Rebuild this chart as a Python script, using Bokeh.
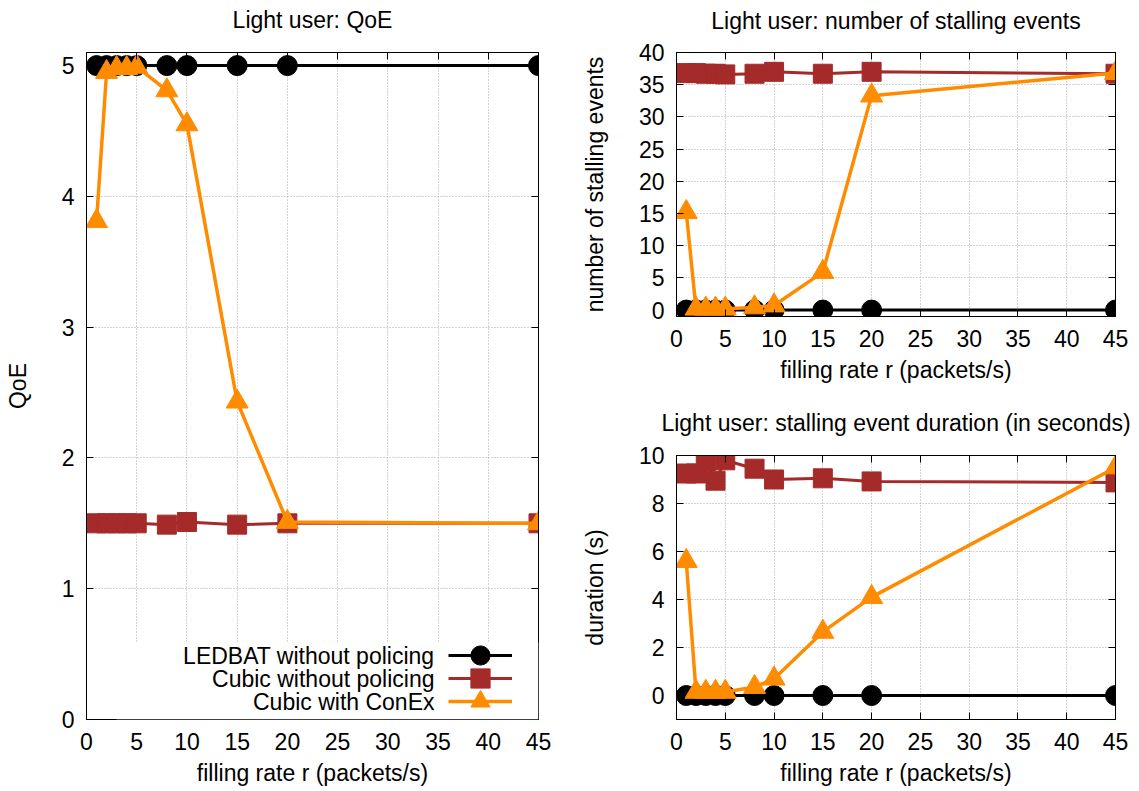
from bokeh.plotting import figure
from bokeh.models import (FixedTicker, LinearAxis, Range1d, Legend, LegendItem,
                          Label, BoxAnnotation, CustomLabelingPolicy)
from bokeh.layouts import row, column
from bokeh.embed import file_html
from bokeh.resources import INLINE

FONT = "Liberation Sans"
FS = "23px"

# ---------------- data ----------------
x_rate = [1, 2, 3, 4, 5, 8, 10, 15, 20, 45]
x_ticks = [0, 5, 10, 15, 20, 25, 30, 35, 40, 45]

series_names = ["LEDBAT without policing", "Cubic without policing", "Cubic with ConEx"]

qoe_ledbat = [5.0, 5.0, 5.0, 5.0, 5.0, 5.0, 5.0, 5.0, 5.0, 5.0]
qoe_cubic = [1.50, 1.50, 1.50, 1.50, 1.50, 1.49, 1.51, 1.49, 1.50, 1.50]
qoe_conex = [3.81, 4.95, 4.98, 4.98, 4.99, 4.81, 4.55, 2.43, 1.51, 1.50]
qoe_ticks = [0, 1, 2, 3, 4, 5]

stall_ledbat = [0, 0, 0, 0, 0, 0, 0, 0, 0, 0]
stall_cubic = [36.8, 36.8, 36.7, 36.7, 36.6, 36.7, 37.0, 36.7, 37.0, 36.7]
stall_conex = [15.2, 0.2, 0.2, 0.2, 0.2, 0.4, 0.7, 5.9, 33.3, 36.8]
stall_ticks = [0, 5, 10, 15, 20, 25, 30, 35, 40]

dur_ledbat = [0, 0, 0, 0, 0, 0, 0, 0, 0, 0]
dur_cubic = [9.25, 9.25, 9.75, 8.95, 9.8, 9.45, 9.0, 9.05, 8.92, 8.88]
dur_conex = [5.6, 0.15, 0.15, 0.15, 0.15, 0.35, 0.7, 2.65, 4.1, 9.5]
dur_ticks = [0, 2, 4, 6, 8, 10]

# ---------------- styles ----------------
COLORS = ["black", "#a52a2a", "#ff8c00"]
MARKERS = ["circle", "square", "triangle"]
SIZES = [20, 19, 22]
LW = [3, 3, 3.5]

NO_LABELS = "for (let i = 0; i < indices.size; i++) { indices.unset(i) } return indices"


def style_axis(ax, ticks, show_labels=True):
    ax.ticker = FixedTicker(ticks=ticks)
    ax.major_tick_in = 7
    ax.major_tick_out = 0
    ax.minor_tick_in = 0
    ax.minor_tick_out = 0
    ax.axis_line_color = "black"
    ax.major_tick_line_color = "black"
    ax.major_label_text_font = FONT
    ax.major_label_text_color = "black"
    ax.axis_label_text_font = FONT
    ax.axis_label_text_font_style = "normal"
    ax.axis_label_text_color = "black"
    ax.axis_label_text_font_size = FS
    if show_labels:
        ax.major_label_text_font_size = FS
    else:
        ax.major_label_text_font_size = "0px"
        ax.major_label_standoff = 0
        ax.major_label_policy = CustomLabelingPolicy(code=NO_LABELS)


def make_fig(title, width, height, yr, yticks, ylabel, mbl, mbr, mbt, mbb, tstand):
    p = figure(width=width, height=height, x_range=Range1d(0, 45),
               y_range=Range1d(*yr), output_backend="svg", toolbar_location=None,
               min_border_left=mbl, min_border_right=mbr,
               min_border_top=mbt, min_border_bottom=mbb)
    p.title.text = title
    p.title.text_font = FONT
    p.title.text_font_size = FS
    p.title.text_font_style = "normal"
    p.title.text_color = "black"
    p.title.align = "center"
    p.title.vertical_align = "top"
    p.title.standoff = tstand
    p.outline_line_color = "black"
    p.outline_line_alpha = 1
    p.background_fill_color = "white"
    p.border_fill_color = "white"

    style_axis(p.xaxis[0], x_ticks)
    p.xaxis[0].axis_label = "filling rate r (packets/s)"
    p.xaxis[0].major_label_standoff = 13
    p.xaxis[0].axis_label_standoff = 7
    style_axis(p.yaxis[0], yticks)
    p.yaxis[0].axis_label = ylabel
    p.yaxis[0].major_label_standoff = 12
    p.yaxis[0].axis_label_standoff = 28

    top = LinearAxis()
    style_axis(top, x_ticks, show_labels=False)
    p.add_layout(top, "above")
    right = LinearAxis()
    style_axis(right, yticks, show_labels=False)
    p.add_layout(right, "right")

    for g in (p.xgrid[0], p.ygrid[0]):
        g.grid_line_color = "#a8a8a8"
        g.grid_line_dash = "1 2"
        g.grid_line_width = 1
    p.xgrid[0].ticker = FixedTicker(ticks=x_ticks)
    p.ygrid[0].ticker = FixedTicker(ticks=yticks)
    return p


def add_series(p, ys):
    rends = []
    for i, y in enumerate(ys):
        ln = p.line(x_rate, y, line_color=COLORS[i], line_width=LW[i])
        sc = p.scatter(x_rate, y, marker=MARKERS[i], size=SIZES[i],
                       fill_color=COLORS[i], line_color=COLORS[i])
        rends.append([ln, sc])
    return rends


# ---------------- left: QoE ----------------
p1 = make_fig("Light user: QoE", 570, 804, (0, 5.1), qoe_ticks, "QoE",
              86, 32, 66, 71, 36)
r1 = add_series(p1, [qoe_ledbat, qoe_cubic, qoe_conex])

p1.add_layout(BoxAnnotation(left=30, right=452, bottom=0, top=77,
                            left_units="screen", right_units="screen",
                            top_units="screen", bottom_units="screen",
                            fill_color="white", fill_alpha=1, line_alpha=0))
for k, name in enumerate(series_names):
    p1.add_layout(Label(x=348, y=64 - 23 * k, x_units="screen", y_units="screen",
                        text=name, text_align="right", text_baseline="middle",
                        text_font=FONT, text_font_size=FS, text_color="black"))
for k in range(3):
    lg = Legend(items=[LegendItem(label=" ", renderers=r1[k])],
                location=(362, 40 - 23 * k), glyph_width=64, glyph_height=48,
                label_width=0, label_standoff=0, padding=0, margin=0,
                background_fill_alpha=0, border_line_alpha=0,
                label_text_font=FONT, label_text_font_size=FS)
    p1.add_layout(lg, "center")

# ---------------- right top: stalling events ----------------
p2 = make_fig("Light user: number of stalling events", 569, 404, (-1, 40),
              stall_ticks, "number of stalling events", 106, 24, 66, 74, 34)
add_series(p2, [stall_ledbat, stall_cubic, stall_conex])

# ---------------- right bottom: duration ----------------
p3 = make_fig("Light user: stalling event duration (in seconds)", 569, 400, (-1, 10),
              dur_ticks, "duration (s)", 106, 24, 65, 71, 35)
add_series(p3, [dur_ledbat, dur_cubic, dur_conex])

layout = row(p1, column(p2, p3), margin=(-14, 0, 0, 0))
open("out.html", "w").write(file_html(layout, INLINE))
